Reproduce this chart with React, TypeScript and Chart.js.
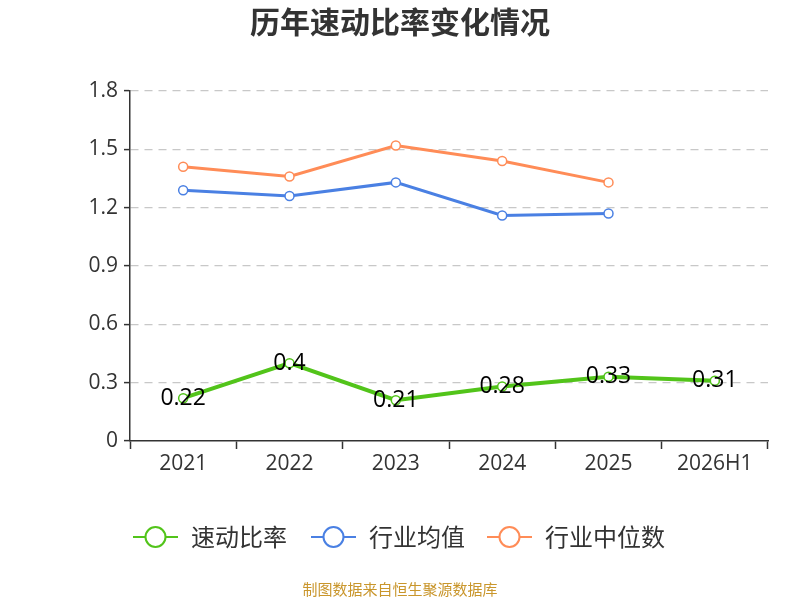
import Chart from "chart.js/auto";
import { useEffect, useRef } from "react";

const categories = ["2021", "2022", "2023", "2024", "2025", "2026H1"];
const quickRatio = [0.22, 0.4, 0.21, 0.28, 0.33, 0.31];
const industryMean = [1.29, 1.26, 1.33, 1.16, 1.17, null];
const industryMedian = [1.41, 1.36, 1.52, 1.44, 1.33, null];
const yTicks = [0, 0.3, 0.6, 0.9, 1.2, 1.5, 1.8];

const seriesNames = ["速动比率", "行业均值", "行业中位数"];
const seriesColors = ["#52c41a", "#4a80e3", "#ff8c57"];
const seriesWidths = [4, 3, 3];

const FONT = "'Noto Sans CJK SC', 'Noto Sans', sans-serif";
const NUM_FONT = "'Open Sans', 'Noto Sans CJK SC', sans-serif";

const extrasPlugin = {
  id: "extras",
  afterDraw(chart: Chart) {
    const ctx = chart.ctx;
    ctx.save();

    // title
    ctx.fillStyle = "#333";
    ctx.font = `bold 30px ${FONT}`;
    ctx.textAlign = "center";
    ctx.textBaseline = "middle";
    ctx.fillText("历年速动比率变化情况", 400, 22);

    // value labels on the first series
    const meta = chart.getDatasetMeta(0);
    ctx.font = `23px ${NUM_FONT}`;
    ctx.fillStyle = "#000";
    meta.data.forEach((pt, i) => {
      ctx.fillText(String(quickRatio[i]), pt.x, pt.y);
    });

    // legend
    const xs = [133, 311, 487];
    const y = 537;
    ctx.textAlign = "left";
    seriesNames.forEach((name, i) => {
      const x = xs[i];
      ctx.strokeStyle = seriesColors[i];
      ctx.lineWidth = 2;
      ctx.beginPath();
      ctx.moveTo(x, y);
      ctx.lineTo(x + 45, y);
      ctx.stroke();
      ctx.beginPath();
      ctx.arc(x + 22.5, y, 10, 0, Math.PI * 2);
      ctx.fillStyle = "#fff";
      ctx.fill();
      ctx.stroke();
      ctx.fillStyle = "#333";
      ctx.font = `24px ${FONT}`;
      ctx.fillText(name, x + 58, y);
    });

    // source
    ctx.textAlign = "center";
    ctx.fillStyle = "#c9962c";
    ctx.font = `15px ${FONT}`;
    ctx.fillText("制图数据来自恒生聚源数据库", 400, 589);

    ctx.restore();
  },
};

export default function App() {
  const canvasRef = useRef<HTMLCanvasElement | null>(null);
  const chartRef = useRef<Chart | null>(null);

  useEffect(() => {
    const canvas = canvasRef.current;
    if (!canvas) {
      return;
    }

    const line = (i: number, data: (number | null)[]) => ({
      label: seriesNames[i],
      data,
      borderColor: seriesColors[i],
      backgroundColor: "#fff",
      borderWidth: seriesWidths[i],
      pointBackgroundColor: "#fff",
      pointBorderColor: seriesColors[i],
      pointBorderWidth: 1.5,
      pointRadius: 4.5,
      tension: 0,
    });

    chartRef.current?.destroy();
    chartRef.current = new Chart(canvas, {
      type: "line",
      data: {
        labels: categories,
        datasets: [
          line(0, quickRatio),
          line(1, industryMean),
          line(2, industryMedian),
        ],
      },
      options: {
        responsive: false,
        animation: false,
        layout: { padding: { top: 91, right: 32, left: 0, bottom: 0 } },
        plugins: {
          legend: { display: false },
          title: { display: false },
          tooltip: { enabled: false },
        },
        scales: {
          x: {
            offset: true,
            afterFit: (s: any) => {
              s.height = 159;
            },
            border: { color: "#333", width: 1.5 },
            grid: {
              offset: true,
              drawOnChartArea: false,
              drawTicks: true,
              tickLength: 8,
              tickWidth: 1.5,
              tickColor: "#333",
            },
            ticks: {
              font: { family: NUM_FONT, size: 21 },
              color: "#333",
              padding: 2,
            },
          },
          y: {
            min: 0,
            max: 1.8,
            afterFit: (s: any) => {
              s.width = 130;
            },
            afterBuildTicks: (s: any) => {
              s.ticks = yTicks.map((v) => ({ value: v }));
            },
            border: { color: "#333", width: 1.5, dash: [8, 6] },
            grid: {
              color: (c: any) => (c.tick && c.tick.value === 0 ? "rgba(0,0,0,0)" : "#c8c8c8"),
              lineWidth: 1.2,
              tickBorderDash: [],
              tickColor: "#333",
              tickWidth: 1.5,
              tickLength: 6,
            },
            ticks: {
              font: { family: NUM_FONT, size: 21 },
              color: "#333",
              padding: 6,
              callback: (v: any) => String(Number(v)),
            },
          },
        },
      },
      plugins: [extrasPlugin],
    });

    return () => {
      chartRef.current?.destroy();
      chartRef.current = null;
    };
  }, []);

  return (
    <div style={{ position: "fixed", left: 0, top: 0, width: 800, height: 600, background: "#fff" }}>
      <canvas ref={canvasRef} width={800} height={600} style={{ width: 800, height: 600 }} />
    </div>
  );
}
